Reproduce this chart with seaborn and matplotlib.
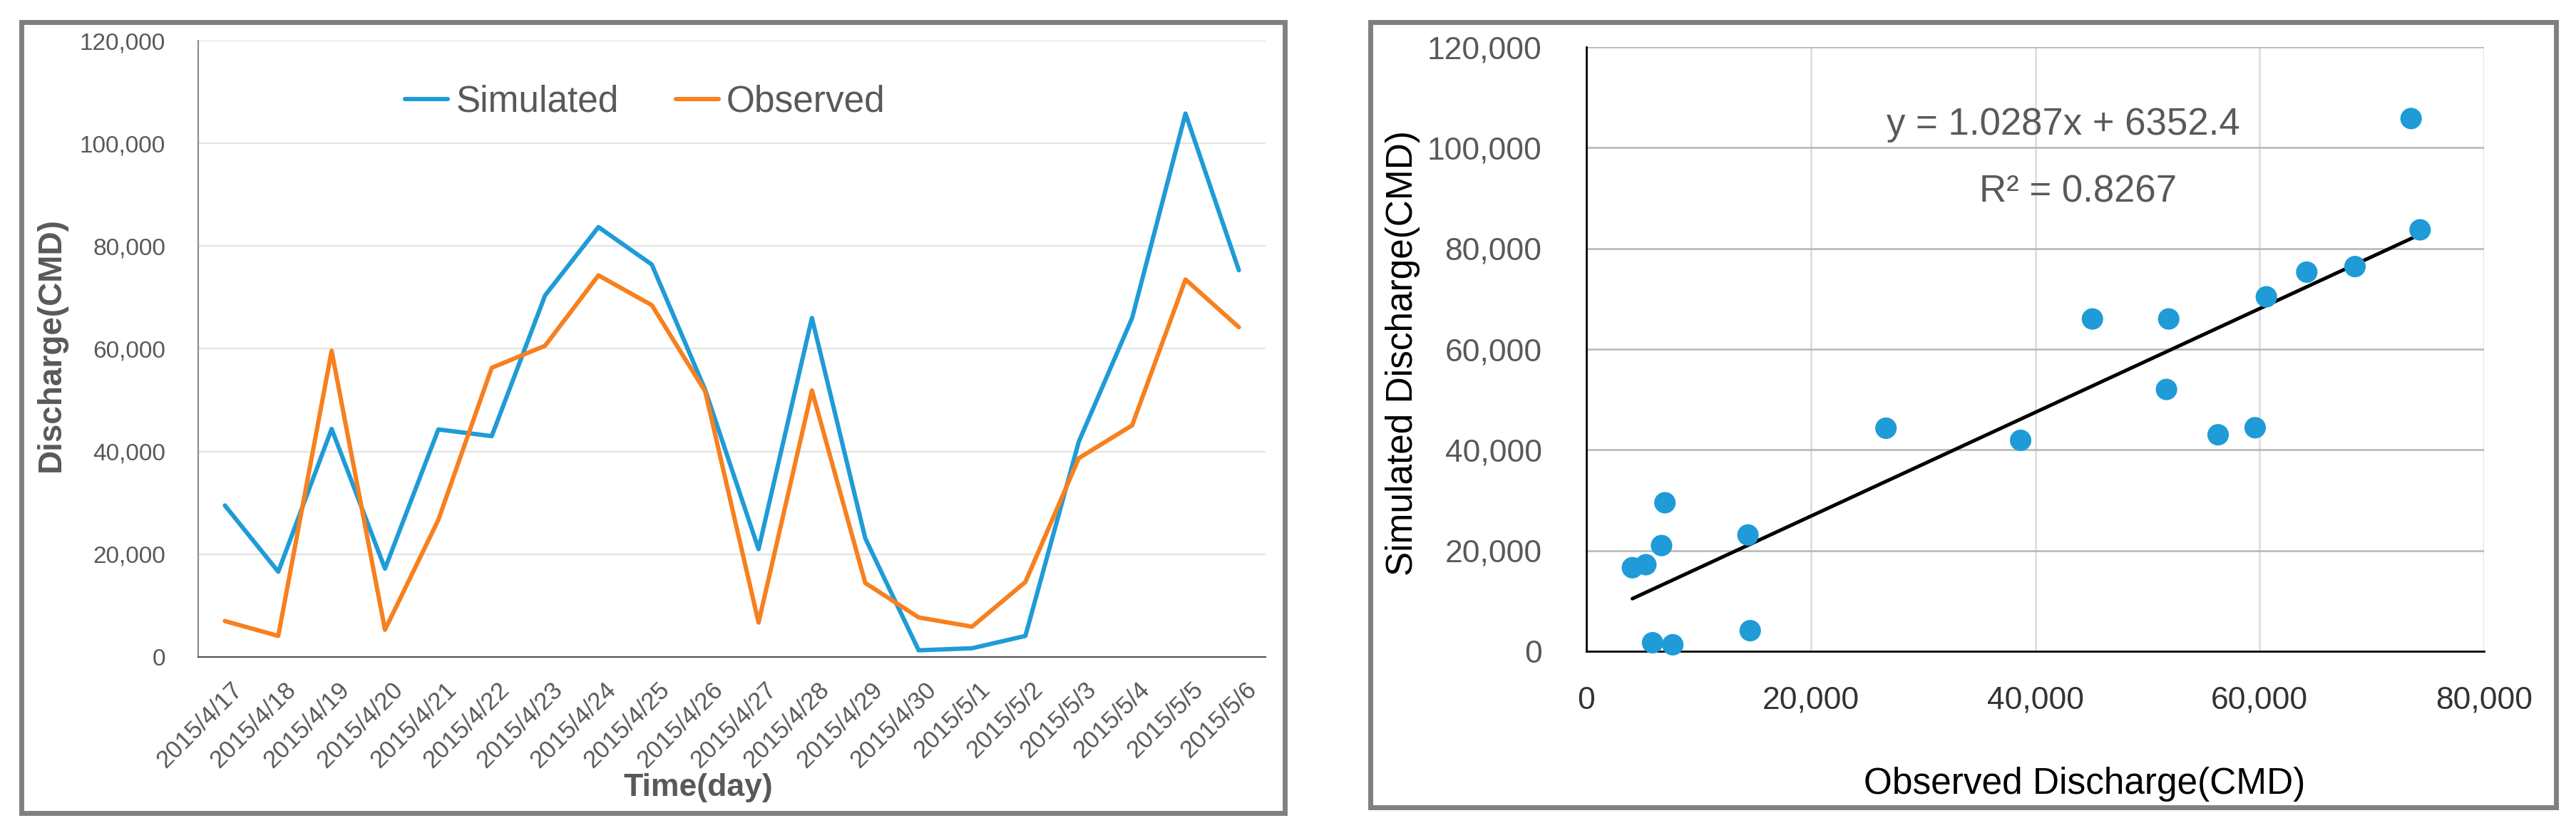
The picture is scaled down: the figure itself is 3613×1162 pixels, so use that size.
import numpy as np
import pandas as pd
import seaborn as sns
import matplotlib.pyplot as plt
from matplotlib.patches import Rectangle
from matplotlib.ticker import FuncFormatter, MultipleLocator
from matplotlib.transforms import ScaledTranslation

dates = ['2015/4/17', '2015/4/18', '2015/4/19', '2015/4/20', '2015/4/21',
         '2015/4/22', '2015/4/23', '2015/4/24', '2015/4/25', '2015/4/26',
         '2015/4/27', '2015/4/28', '2015/4/29', '2015/4/30', '2015/5/1',
         '2015/5/2', '2015/5/3', '2015/5/4', '2015/5/5', '2015/5/6']
simulated = [29500, 16600, 44400, 17200, 44300, 43000, 70400, 83700, 76400, 52000,
             21000, 66000, 23100, 1300, 1700, 4100, 41900, 66000, 105800, 75300]
observed = [7000, 4100, 59600, 5300, 26700, 56300, 60600, 74300, 68500, 51700,
            6700, 51900, 14400, 7700, 5900, 14600, 38700, 45100, 73500, 64200]

fit_label = 'y = 1.0287x + 6352.4'
r2_label = 'R² = 0.8267'

blue = '#1f9bd7'
orange = '#f7801f'
grey_text = '#595959'

sns.set_style('white')
plt.rcParams['font.family'] = ['Liberation Sans', 'DejaVu Sans']

W, H = 3613, 1162
fig = plt.figure(figsize=(W / 100, H / 100), dpi=100)


def fx(px):
    return px / W


def fy(py):
    return 1 - py / H


comma = FuncFormatter(lambda v, p: f'{v:,.0f}')

# ---------- left: time series ----------
ax1 = fig.add_axes([fx(278), fy(922), fx(1775) - fx(278), fy(57) - fy(922)])
day = np.arange(len(dates))
df = pd.DataFrame({
    'day': np.concatenate([day, day]),
    'Discharge': simulated + observed,
    'series': ['Simulated'] * len(dates) + ['Observed'] * len(dates),
})
sns.lineplot(data=df, x='day', y='Discharge', hue='series',
             palette={'Simulated': blue, 'Observed': orange},
             linewidth=4.4, ax=ax1, zorder=3)
ax1.set_xlim(-0.5, len(dates) - 0.5)
ax1.set_ylim(0, 120000)
ax1.yaxis.set_major_locator(MultipleLocator(20000))
ax1.yaxis.set_major_formatter(comma)
ax1.set_xticks(day)
ax1.set_xticklabels(dates, rotation=45, ha='right', va='top',
                    rotation_mode='anchor')
ax1.tick_params(axis='x', length=0, pad=21, labelsize=25, labelcolor=grey_text)
ax1.tick_params(axis='y', length=0, pad=33, labelsize=24, labelcolor=grey_text)
shift = ScaledTranslation(8 / 100, 0, fig.dpi_scale_trans)
for lab in ax1.get_xticklabels():
    lab.set_transform(lab.get_transform() + shift)
ax1.grid(axis='y', color='#e3e3e3', linewidth=1.6)
ax1.set_axisbelow(True)
for s in ['top', 'right']:
    ax1.spines[s].set_visible(False)
ax1.spines['left'].set_color('#8a8a8a')
ax1.spines['left'].set_linewidth(1.5)
ax1.spines['bottom'].set_color('#505050')
ax1.spines['bottom'].set_linewidth(1.5)

ax1.set_xlabel('Time(day)', fontsize=32, fontweight='bold', color=grey_text)
ax1.xaxis.set_label_coords(fx(979), fy(1117), transform=fig.transFigure)
ax1.xaxis.label.set_verticalalignment('baseline')
ax1.set_ylabel('Discharge(CMD)', fontsize=33, fontweight='bold', color=grey_text)
ax1.yaxis.set_label_coords(fx(72), fy(484), transform=fig.transFigure)
ax1.yaxis.label.set_verticalalignment('center')
ax1.yaxis.label.set_rotation_mode('default')

handles, labels = ax1.get_legend_handles_labels()
ax1.legend(handles, labels, loc='center', ncol=2, frameon=False,
           bbox_to_anchor=(fx(905), fy(143)), bbox_transform=fig.transFigure,
           fontsize=37, labelcolor=grey_text, handlelength=1.17,
           handletextpad=0.22, columnspacing=1.55, borderpad=0)

# ---------- right: scatter with trend line ----------
ax2 = fig.add_axes([fx(2225), fy(914), fx(3484) - fx(2225), fy(66) - fy(914)])
sc = pd.DataFrame({'Observed': observed, 'Simulated': simulated})
sns.scatterplot(data=sc, x='Observed', y='Simulated', s=470, color=blue,
                edgecolor='none', ax=ax2, zorder=5, clip_on=False)
sns.regplot(data=sc, x='Observed', y='Simulated', scatter=False, ci=None,
            color='black', line_kws={'linewidth': 3.6, 'zorder': 4}, ax=ax2)
ax2.set_xlim(0, 80000)
ax2.set_ylim(0, 120000)
ax2.xaxis.set_major_locator(MultipleLocator(20000))
ax2.yaxis.set_major_locator(MultipleLocator(20000))
ax2.xaxis.set_major_formatter(comma)
ax2.yaxis.set_major_formatter(comma)
ax2.tick_params(axis='x', length=0, pad=35, labelsize=32, labelcolor='#333333')
ax2.tick_params(axis='y', length=0, pad=45, labelsize=32, labelcolor=grey_text)
ax2.grid(axis='y', color='#b5b5b5', linewidth=1.8)
ax2.grid(axis='x', color='#dadada', linewidth=1.8)
ax2.set_axisbelow(True)
for s in ['top', 'right']:
    ax2.spines[s].set_visible(False)
for s in ['left', 'bottom']:
    ax2.spines[s].set_color('black')
    ax2.spines[s].set_linewidth(2)

ax2.set_xlabel('Observed Discharge(CMD)', fontsize=37, color='black')
ax2.xaxis.set_label_coords(fx(2924), fy(1114), transform=fig.transFigure)
ax2.xaxis.label.set_verticalalignment('baseline')
ax2.set_ylabel('Simulated Discharge(CMD)', fontsize=37, color='black')
ax2.yaxis.set_label_coords(fx(1967), fy(496), transform=fig.transFigure)
ax2.yaxis.label.set_verticalalignment('center')
ax2.yaxis.label.set_rotation_mode('default')

ax2.text(fx(2894), fy(189), fit_label, transform=fig.transFigure, fontsize=38,
         color=grey_text, ha='center', va='baseline')
ax2.text(fx(2915), fy(283), r2_label, transform=fig.transFigure, fontsize=38,
         color=grey_text, ha='center', va='baseline')

# grey frames around each chart
for x0, y0, x1, y1 in [(29.5, 31, 1801.5, 1140.5), (1922, 31, 3584.5, 1132.5)]:
    fig.patches.append(Rectangle((fx(x0), fy(y1)), fx(x1) - fx(x0), fy(y0) - fy(y1),
                                 transform=fig.transFigure, fill=False,
                                 edgecolor='#808080', linewidth=5, zorder=0))

fig.savefig('out.png', dpi=100, facecolor='white')
